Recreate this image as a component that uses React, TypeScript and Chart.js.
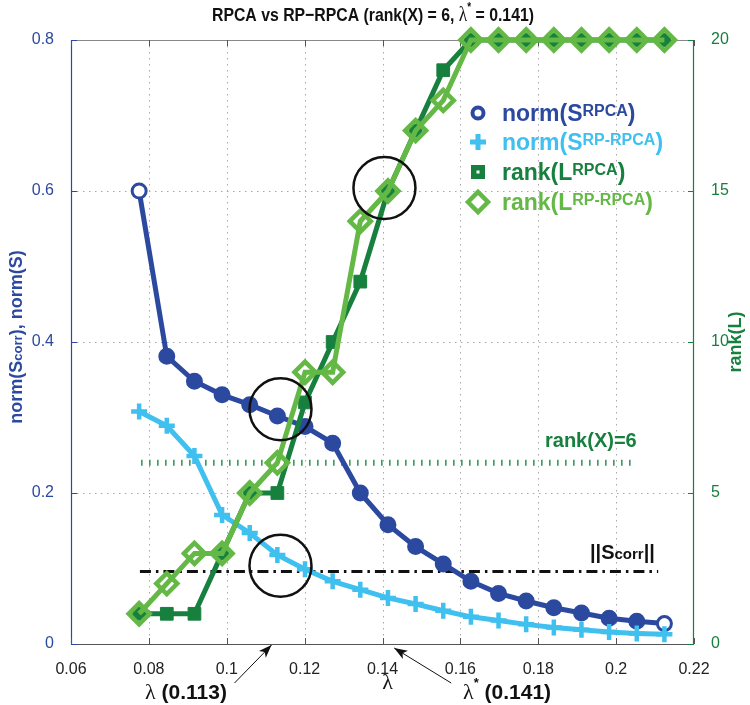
import React, { useEffect, useRef } from "react";
import { Chart, registerables } from "chart.js";

Chart.register(...registerables);

// ---------- data ----------
const lambdas = [0.0775, 0.0846, 0.0917, 0.0988, 0.1059, 0.113, 0.1201, 0.1272, 0.1343, 0.1414, 0.1485, 0.1556, 0.1627, 0.1698, 0.1769, 0.184, 0.1911, 0.1982, 0.2053, 0.2124];
const normSRpca = [0.6, 0.381, 0.348, 0.33, 0.317, 0.302, 0.288, 0.266, 0.2, 0.158, 0.129, 0.106, 0.083, 0.067, 0.057, 0.048, 0.041, 0.034, 0.03, 0.027];
const normSRpRpca = [0.308, 0.289, 0.249, 0.171, 0.147, 0.118, 0.099, 0.083, 0.072, 0.061, 0.053, 0.044, 0.036, 0.031, 0.026, 0.022, 0.019, 0.016, 0.014, 0.013];
const rankLRpca = [1, 1, 1, 3, 5, 5, 8, 10, 12, 15, 17, 19, 20, 20, 20, 20, 20, 20, 20, 20];
const rankLRpRpca = [1, 2, 3, 3, 5, 6, 9, 9, 14, 15, 17, 18, 20, 20, 20, 20, 20, 20, 20, 20];

const rankXLineX = [0.078, 0.204];
const rankXLineY = [6, 6];
const sCorrLineX = [0.0777, 0.2108];
const sCorrLineY = [0.096, 0.096];

const xTicks = [0.06, 0.08, 0.1, 0.12, 0.14, 0.16, 0.18, 0.2, 0.22];
const leftTicks = [0, 0.2, 0.4, 0.6, 0.8];
const rightTicks = [0, 5, 10, 15, 20];

// highlight circles: [lambda, value, axis]
const circleX = [0.1138, 0.1138, 0.1405];
const circleY = [0.311, 0.1037, 15.1];
const circleAxis = ["y", "y", "y1"];

// arrow annotations
const arrowLambda = [0.1115, 0.143];

// ---------- colors ----------
const C_BLUE = "#2c49a0";
const C_CYAN = "#3fc0ef";
const C_DGREEN = "#17803e";
const C_LGREEN = "#64b845";
const SANS = "'Liberation Sans', Arial, Helvetica, sans-serif";
const SERIF = "'Liberation Serif', 'Times New Roman', serif";

type Part = { t: string; font: string; dy?: number };

function richWidth(ctx: CanvasRenderingContext2D, parts: Part[]) {
  let w = 0;
  for (const p of parts) {
    ctx.font = p.font;
    w += ctx.measureText(p.t).width;
  }
  return w;
}

function drawRich(ctx: CanvasRenderingContext2D, x: number, y: number, parts: Part[], color: string, sx = 1) {
  ctx.save();
  ctx.translate(x, y);
  ctx.scale(sx, 1);
  ctx.fillStyle = color;
  ctx.textBaseline = "alphabetic";
  ctx.textAlign = "left";
  let cx = 0;
  for (const p of parts) {
    ctx.font = p.font;
    ctx.fillText(p.t, cx, p.dy || 0);
    cx += ctx.measureText(p.t).width;
  }
  ctx.restore();
}

const overlayPlugin = {
  id: "overlay",
  beforeDatasetsDraw(chart: any) {
    const ctx: CanvasRenderingContext2D = chart.ctx;
    const { left, right, top, bottom } = chart.chartArea;
    const xs = chart.scales.x;
    const ys = chart.scales.y;
    ctx.save();
    // dotted grid
    ctx.strokeStyle = "#a8a8a8";
    ctx.lineWidth = 1;
    ctx.setLineDash([1.5, 4.5]);
    for (const v of xTicks.slice(1, -1)) {
      const px = Math.round(xs.getPixelForValue(v)) + 0.5;
      ctx.beginPath();
      ctx.moveTo(px, top);
      ctx.lineTo(px, bottom);
      ctx.stroke();
    }
    for (const v of leftTicks.slice(1, -1)) {
      const py = Math.round(ys.getPixelForValue(v)) + 0.5;
      ctx.beginPath();
      ctx.moveTo(left, py);
      ctx.lineTo(right, py);
      ctx.stroke();
    }
    ctx.setLineDash([]);
    // box
    ctx.lineWidth = 1.2;
    ctx.strokeStyle = "#555";
    ctx.beginPath();
    ctx.moveTo(left, bottom + 0.5);
    ctx.lineTo(right, bottom + 0.5);
    ctx.stroke();
    ctx.strokeStyle = "#888";
    ctx.beginPath();
    ctx.moveTo(left, top + 0.5);
    ctx.lineTo(right, top + 0.5);
    ctx.stroke();
    ctx.strokeStyle = C_BLUE;
    ctx.beginPath();
    ctx.moveTo(left + 0.5, top);
    ctx.lineTo(left + 0.5, bottom);
    ctx.stroke();
    ctx.strokeStyle = C_DGREEN;
    ctx.beginPath();
    ctx.moveTo(right - 0.5, top);
    ctx.lineTo(right - 0.5, bottom);
    ctx.stroke();
    // tick marks
    ctx.lineWidth = 1;
    ctx.strokeStyle = "#555";
    for (const v of xTicks) {
      const px = Math.round(xs.getPixelForValue(v)) + 0.5;
      ctx.beginPath();
      ctx.moveTo(px, bottom);
      ctx.lineTo(px, bottom - 6);
      ctx.moveTo(px, top);
      ctx.lineTo(px, top + 6);
      ctx.stroke();
    }
    ctx.strokeStyle = C_BLUE;
    for (const v of leftTicks) {
      const py = Math.round(ys.getPixelForValue(v)) + 0.5;
      ctx.beginPath();
      ctx.moveTo(left, py);
      ctx.lineTo(left + 6, py);
      ctx.stroke();
    }
    ctx.strokeStyle = C_DGREEN;
    const y1 = chart.scales.y1;
    for (const v of rightTicks) {
      const py = Math.round(y1.getPixelForValue(v)) + 0.5;
      ctx.beginPath();
      ctx.moveTo(right, py);
      ctx.lineTo(right - 6, py);
      ctx.stroke();
    }
    ctx.restore();
  },
  afterDatasetsDraw(chart: any) {
    const ctx: CanvasRenderingContext2D = chart.ctx;
    const { left, right, top, bottom } = chart.chartArea;
    const xs = chart.scales.x;
    ctx.save();

    // highlight circles
    ctx.strokeStyle = "#111";
    ctx.lineWidth = 2.5;
    for (let i = 0; i < circleX.length; i++) {
      const sc = chart.scales[circleAxis[i]];
      const cx = xs.getPixelForValue(circleX[i]);
      const cy = sc.getPixelForValue(circleY[i]);
      ctx.beginPath();
      ctx.arc(cx, cy, 31, 0, Math.PI * 2);
      ctx.stroke();
    }

    // legend
    const lx = 478;
    const ly = [113, 142, 172, 202];
    const tx = 502;
    const mainF = `bold 23px ${SANS}`;
    const supF = `bold 16px ${SANS}`;
    // 1 circle
    ctx.lineWidth = 4;
    ctx.strokeStyle = C_BLUE;
    ctx.fillStyle = "#fff";
    ctx.beginPath();
    ctx.arc(lx, ly[0], 5.5, 0, Math.PI * 2);
    ctx.fill();
    ctx.stroke();
    drawRich(ctx, tx, ly[0] + 8, [{ t: "norm(S", font: mainF }, { t: "RPCA", font: supF, dy: -5 }, { t: ")", font: mainF }], C_BLUE);
    // 2 plus
    ctx.lineWidth = 5;
    ctx.strokeStyle = C_CYAN;
    ctx.beginPath();
    ctx.moveTo(lx - 8, ly[1]);
    ctx.lineTo(lx + 8, ly[1]);
    ctx.moveTo(lx, ly[1] - 8);
    ctx.lineTo(lx, ly[1] + 8);
    ctx.stroke();
    drawRich(ctx, tx, ly[1] + 8, [{ t: "norm(S", font: mainF }, { t: "RP-RPCA", font: supF, dy: -5 }, { t: ")", font: mainF }], C_CYAN);
    // 3 square
    ctx.fillStyle = C_DGREEN;
    ctx.fillRect(lx - 7, ly[2] - 7, 14, 14);
    ctx.fillStyle = "#fff";
    ctx.fillRect(lx - 1.5, ly[2] - 1.5, 3, 3);
    drawRich(ctx, tx, ly[2] + 8, [{ t: "rank(L", font: mainF }, { t: "RPCA", font: supF, dy: -5 }, { t: ")", font: mainF }], C_DGREEN);
    // 4 diamond
    ctx.lineWidth = 4.5;
    ctx.strokeStyle = C_LGREEN;
    ctx.fillStyle = "#fff";
    ctx.beginPath();
    ctx.moveTo(lx - 10, ly[3]);
    ctx.lineTo(lx, ly[3] - 10);
    ctx.lineTo(lx + 10, ly[3]);
    ctx.lineTo(lx, ly[3] + 10);
    ctx.closePath();
    ctx.fill();
    ctx.stroke();
    drawRich(ctx, tx, ly[3] + 8, [{ t: "rank(L", font: mainF }, { t: "RP-RPCA", font: supF, dy: -5 }, { t: ")", font: mainF }], C_LGREEN);

    // reference labels
    drawRich(ctx, 545, 447, [{ t: "rank(X)=6", font: `bold 20px ${SANS}` }], C_DGREEN);
    drawRich(ctx, 590, 559, [
      { t: "||", font: `bold 20px ${SANS}` },
      { t: "S", font: `bold 20px ${SANS}` },
      { t: "corr", font: `bold 15px ${SANS}` },
      { t: "||", font: `bold 20px ${SANS}` },
    ], "#111");

    // title (condensed to fit the reference width)
    const titleParts: Part[] = [
      { t: "RPCA vs RP\u2212RPCA (rank(X) = 6, ", font: `bold 19px ${SANS}` },
      { t: "\u03bb", font: `21px ${SERIF}` },
      { t: "*", font: `bold 12px ${SANS}`, dy: -10 },
      { t: " = 0.141)", font: `bold 19px ${SANS}` },
    ];
    const tw = richWidth(ctx, titleParts);
    const targetW = 322;
    const sx = targetW / tw;
    drawRich(ctx, 373 - targetW / 2, 21, titleParts, "#111", sx);

    // x axis title
    ctx.font = `22px ${SERIF}`;
    ctx.fillStyle = "#111";
    ctx.textAlign = "center";
    ctx.fillText("\u03bb", (left + right) / 2 + 5, 689);

    // left axis title
    ctx.save();
    ctx.translate(16, 337);
    ctx.rotate(-Math.PI / 2);
    const lParts: Part[] = [
      { t: "norm(S", font: `bold 18px ${SANS}` },
      { t: "corr", font: `bold 13px ${SANS}` },
      { t: "), norm(S)", font: `bold 18px ${SANS}` },
    ];
    const lw = richWidth(ctx, lParts);
    drawRich(ctx, -lw / 2, 6, lParts, C_BLUE);
    ctx.restore();

    // right axis title
    ctx.save();
    ctx.translate(735, 342);
    ctx.rotate(-Math.PI / 2);
    const rParts: Part[] = [{ t: "rank(L)", font: `bold 18px ${SANS}` }];
    const rw = richWidth(ctx, rParts);
    drawRich(ctx, -rw / 2, 6, rParts, C_DGREEN);
    ctx.restore();

    // arrows
    const drawArrow = (hx: number, hy: number, tx2: number, ty2: number) => {
      ctx.strokeStyle = "#111";
      ctx.fillStyle = "#111";
      ctx.lineWidth = 1;
      ctx.beginPath();
      ctx.moveTo(tx2, ty2);
      ctx.lineTo(hx, hy);
      ctx.stroke();
      const ang = Math.atan2(hy - ty2, hx - tx2);
      const L = 14;
      const W = 0.35;
      ctx.beginPath();
      ctx.moveTo(hx, hy);
      ctx.lineTo(hx - L * Math.cos(ang - W), hy - L * Math.sin(ang - W));
      ctx.lineTo(hx - L * 0.7 * Math.cos(ang), hy - L * 0.7 * Math.sin(ang));
      ctx.lineTo(hx - L * Math.cos(ang + W), hy - L * Math.sin(ang + W));
      ctx.closePath();
      ctx.fill();
    };
    const h1 = xs.getPixelForValue(arrowLambda[0]);
    drawArrow(h1, bottom + 1, h1 - 37, bottom + 39);
    const h2 = xs.getPixelForValue(arrowLambda[1]);
    drawArrow(h2, bottom + 4, h2 + 57, bottom + 39);

    drawRich(ctx, 145, 699, [
      { t: "\u03bb", font: `22px ${SERIF}` },
      { t: " (0.113)", font: `bold 21px ${SANS}` },
    ], "#111");
    drawRich(ctx, 463, 699, [
      { t: "\u03bb", font: `22px ${SERIF}` },
      { t: "*", font: `bold 13px ${SANS}`, dy: -12 },
      { t: " (0.141)", font: `bold 21px ${SANS}` },
    ], "#111");

    ctx.restore();
  },
};

function fmt(v: number) {
  return String(Number(v.toFixed(2)));
}

export default function App() {
  const ref = useRef<HTMLCanvasElement | null>(null);
  useEffect(() => {
    if (!ref.current) return;
    const pts = (ys: number[]) => lambdas.map((x, i) => ({ x, y: ys[i] }));
    const blueBg = normSRpca.map((_, i) => (i === 0 || i === normSRpca.length - 1 ? "#ffffff" : C_BLUE));
    const chart = new Chart(ref.current, {
      type: "line",
      data: {
        datasets: [
          {
            label: "||Scorr||",
            data: sCorrLineX.map((x, i) => ({ x, y: sCorrLineY[i] })),
            yAxisID: "y",
            borderColor: "#111",
            borderWidth: 3,
            borderDash: [11, 5, 2.5, 5],
            pointRadius: 0,
            order: 10,
          },
          {
            label: "rank(X)=6",
            data: rankXLineX.map((x, i) => ({ x, y: rankXLineY[i] })),
            yAxisID: "y1",
            borderColor: "#2f9150",
            borderWidth: 6,
            borderDash: [1.5, 6.5],
            borderCapStyle: "butt",
            pointRadius: 0,
            order: 9,
          },
          {
            label: "norm(S RPCA)",
            data: pts(normSRpca),
            yAxisID: "y",
            borderColor: C_BLUE,
            backgroundColor: C_BLUE,
            borderWidth: 5,
            pointStyle: "circle",
            pointRadius: 7,
            pointBorderWidth: 3,
            pointBorderColor: C_BLUE,
            pointBackgroundColor: blueBg,
            order: 4,
          },
          {
            label: "norm(S RP-RPCA)",
            data: pts(normSRpRpca),
            yAxisID: "y",
            borderColor: C_CYAN,
            backgroundColor: C_CYAN,
            borderWidth: 5,
            pointStyle: "cross",
            pointRadius: 8,
            pointBorderWidth: 4.5,
            pointBorderColor: C_CYAN,
            order: 3,
          },
          {
            label: "rank(L RPCA)",
            data: pts(rankLRpca),
            yAxisID: "y1",
            borderColor: C_DGREEN,
            backgroundColor: C_DGREEN,
            borderWidth: 5,
            pointStyle: "rect",
            pointRadius: 9,
            pointBorderWidth: 1,
            pointBorderColor: C_DGREEN,
            pointBackgroundColor: C_DGREEN,
            order: 2,
          },
          {
            label: "rank(L RP-RPCA)",
            data: pts(rankLRpRpca),
            yAxisID: "y1",
            borderColor: C_LGREEN,
            backgroundColor: "rgba(0,0,0,0)",
            borderWidth: 5,
            pointStyle: "rectRot",
            pointRadius: 10.5,
            pointBorderWidth: 4.5,
            pointBorderColor: C_LGREEN,
            pointBackgroundColor: "rgba(0,0,0,0)",
            order: 1,
          },
        ],
      },
      options: {
        responsive: false,
        animation: false,
        clip: false as any,
        layout: { padding: { top: 40, left: 0, right: 0, bottom: 0 } },
        plugins: { legend: { display: false }, tooltip: { enabled: false }, title: { display: false } },
        elements: { line: { tension: 0 } },
        scales: {
          x: {
            type: "linear",
            min: 0.06,
            max: 0.22,
            grid: { display: false },
            border: { display: false },
            afterBuildTicks: (s: any) => {
              s.ticks = xTicks.map((v) => ({ value: v }));
            },
            afterFit: (s: any) => {
              s.height = 61;
            },
            ticks: {
              autoSkip: false,
              maxRotation: 0,
              padding: 8,
              color: "#222",
              font: { family: SANS, size: 16 },
              callback: (v: any) => fmt(Number(v)),
            },
          },
          y: {
            type: "linear",
            position: "left",
            min: 0,
            max: 0.8,
            grid: { display: false },
            border: { display: false },
            afterBuildTicks: (s: any) => {
              s.ticks = leftTicks.map((v) => ({ value: v }));
            },
            afterFit: (s: any) => {
              s.width = 71;
            },
            ticks: {
              padding: 9,
              color: C_BLUE,
              font: { family: SANS, size: 16 },
              callback: (v: any) => fmt(Number(v)),
            },
          },
          y1: {
            type: "linear",
            position: "right",
            min: 0,
            max: 20,
            grid: { display: false },
            border: { display: false },
            afterBuildTicks: (s: any) => {
              s.ticks = rightTicks.map((v) => ({ value: v }));
            },
            afterFit: (s: any) => {
              s.width = 56;
            },
            ticks: {
              padding: 9,
              color: C_DGREEN,
              font: { family: SANS, size: 16 },
              callback: (v: any) => String(v),
            },
          },
        },
      } as any,
      plugins: [overlayPlugin],
    });
    return () => chart.destroy();
  }, []);
  return (
    <div style={{ position: "absolute", left: 0, top: 0, width: 750, height: 705, background: "#fff" }}>
      <canvas ref={ref} width={750} height={705} style={{ display: "block" }} />
    </div>
  );
}
